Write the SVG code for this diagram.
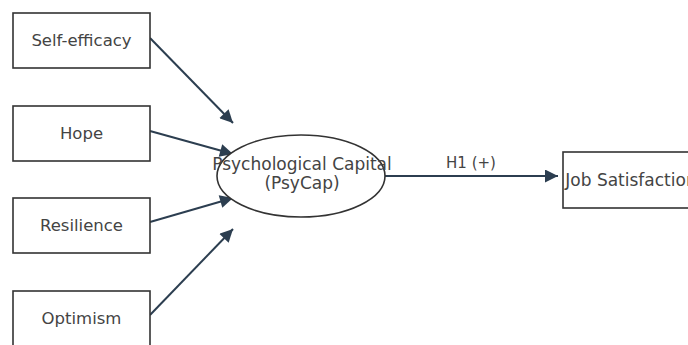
<svg xmlns="http://www.w3.org/2000/svg" width="688" height="345" viewBox="0 0 688 345">
<style>
.box{fill:#fff;stroke:#333;stroke-width:1.6}
.lbl{font-family:"DejaVu Sans",sans-serif;font-size:16.5px;fill:#444;text-anchor:middle}
.big{font-size:17px}
.edge{stroke:#2c3e50;stroke-width:2;fill:none}
.el{font-family:"DejaVu Sans",sans-serif;font-size:15px;fill:#444;text-anchor:middle}
</style>
<defs>
<marker id="arr" viewBox="0 0 10 10" refX="10" refY="5" markerWidth="7.5" markerHeight="6.5" markerUnits="strokeWidth" orient="auto">
<path d="M0,0 L10,5 L0,10 Z" fill="#2c3e50"/>
</marker>
</defs>
<rect width="688" height="345" fill="#fff"/>
<g id="connectors">
<line class="edge" x1="150" y1="38" x2="233" y2="123" marker-end="url(#arr)"/>
<line class="edge" x1="150" y1="131" x2="233" y2="154" marker-end="url(#arr)"/>
<line class="edge" x1="150" y1="222" x2="233" y2="198" marker-end="url(#arr)"/>
<line class="edge" x1="150" y1="315" x2="233" y2="229" marker-end="url(#arr)"/>
<line class="edge" x1="385" y1="176" x2="558" y2="176" marker-end="url(#arr)"/>
<text class="el" x="471" y="168">H1 (+)</text>
</g>
<g id="self-efficacy">
<rect class="box" x="13" y="13" width="137" height="55"/>
<text class="lbl" x="81.5" y="46">Self-efficacy</text>
</g>
<g id="hope">
<rect class="box" x="13" y="106" width="137" height="55"/>
<text class="lbl" x="81.5" y="139">Hope</text>
</g>
<g id="resilience">
<rect class="box" x="13" y="198" width="137" height="55"/>
<text class="lbl" x="81.5" y="231">Resilience</text>
</g>
<g id="optimism">
<rect class="box" x="13" y="291" width="137" height="55"/>
<text class="lbl" x="81.5" y="324">Optimism</text>
</g>
<g id="psycap">
<ellipse class="box" cx="301" cy="176" rx="84" ry="41"/>
<text class="lbl big" x="302" y="170">Psychological Capital</text>
<text class="lbl big" x="302" y="189">(PsyCap)</text>
</g>
<g id="job-satisfaction">
<rect class="box" x="563" y="152" width="132" height="56"/>
<text class="lbl big" x="631" y="186">Job Satisfaction</text>
</g>
</svg>
